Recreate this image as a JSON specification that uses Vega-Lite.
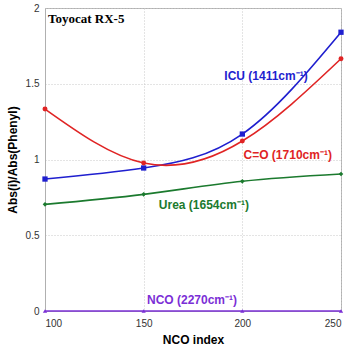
{
  "$schema": "https://vega.github.io/schema/vega-lite/v6.json",
  "width": 296,
  "height": 303,
  "autosize": {"type": "none"},
  "padding": {"left": 45, "top": 8, "right": 6, "bottom": 38},
  "background": "white",
  "config": {
    "view": {"stroke": "#b0b0b0", "strokeWidth": 1},
    "axis": {
      "grid": true, "gridColor": "#c8c8c8", "gridDash": [1, 2],
      "domainColor": "#b0b0b0", "ticks": false,
      "labelFont": "Liberation Sans", "labelFontSize": 10, "labelColor": "#333",
      "titleFont": "Liberation Sans", "titleFontSize": 12, "titleFontWeight": "bold", "titleColor": "#000"
    }
  },
  "datasets": {
    "pts": [
      {"idx": 100, "val": 0.871, "series": "ICU"},
      {"idx": 150, "val": 0.944, "series": "ICU"},
      {"idx": 200, "val": 1.168, "series": "ICU"},
      {"idx": 250, "val": 1.84, "series": "ICU"},
      {"idx": 100, "val": 1.333, "series": "C=O"},
      {"idx": 150, "val": 0.977, "series": "C=O"},
      {"idx": 200, "val": 1.122, "series": "C=O"},
      {"idx": 250, "val": 1.665, "series": "C=O"},
      {"idx": 100, "val": 0.704, "series": "Urea"},
      {"idx": 150, "val": 0.77, "series": "Urea"},
      {"idx": 200, "val": 0.856, "series": "Urea"},
      {"idx": 250, "val": 0.904, "series": "Urea"},
      {"idx": 100, "val": 0.0, "series": "NCO"},
      {"idx": 150, "val": 0.0, "series": "NCO"},
      {"idx": 200, "val": 0.0, "series": "NCO"},
      {"idx": 250, "val": 0.0, "series": "NCO"}
    ],
    "labels": [
      {"idx": 212, "val": 1.55, "series": "ICU", "text": "ICU (1411cm⁻¹)"},
      {"idx": 223, "val": 1.03, "series": "C=O", "text": "C=O (1710cm⁻¹)"},
      {"idx": 180.5, "val": 0.70, "series": "Urea", "text": "Urea (1654cm⁻¹)"},
      {"idx": 174.5, "val": 0.073, "series": "NCO", "text": "NCO (2270cm⁻¹)"}
    ]
  },
  "layer": [
    {
      "data": {"name": "pts"},
      "mark": {"type": "line", "interpolate": "natural", "strokeWidth": 1.6},
      "encoding": {
        "x": {"field": "idx", "type": "quantitative", "scale": {"domain": [100, 250], "nice": false}, "axis": {"values": [100, 150, 200, 250], "format": "d", "title": "NCO index", "titlePadding": 6, "labelPadding": 7}},
        "y": {"field": "val", "type": "quantitative", "scale": {"domain": [0, 2], "nice": false}, "axis": {"values": [0, 0.5, 1, 1.5, 2], "format": ".1~f", "title": "Abs(i)/Abs(Phenyl)", "titlePadding": 6, "labelPadding": 6}},
        "color": {"field": "series", "type": "nominal", "scale": {"domain": ["ICU", "C=O", "Urea", "NCO"], "range": ["#1f1fcf", "#e02424", "#1b7a2e", "#7b2fd6"]}, "legend": null}
      }
    },
    {
      "data": {"name": "pts"},
      "mark": {"type": "point", "filled": true, "opacity": 1},
      "encoding": {
        "x": {"field": "idx", "type": "quantitative"},
        "y": {"field": "val", "type": "quantitative"},
        "color": {"field": "series", "type": "nominal", "legend": null},
        "shape": {"field": "series", "type": "nominal", "scale": {"domain": ["ICU", "C=O", "Urea", "NCO"], "range": ["square", "circle", "diamond", "triangle-up"]}, "legend": null},
        "size": {"field": "series", "type": "nominal", "scale": {"domain": ["ICU", "C=O", "Urea", "NCO"], "range": [28, 18, 22, 22]}, "legend": null}
      }
    },
    {
      "data": {"name": "labels"},
      "mark": {"type": "text", "font": "Liberation Sans", "fontSize": 12, "fontWeight": "bold", "align": "center", "baseline": "middle"},
      "encoding": {
        "x": {"field": "idx", "type": "quantitative"},
        "y": {"field": "val", "type": "quantitative"},
        "text": {"field": "text"},
        "color": {"field": "series", "type": "nominal", "legend": null}
      }
    },
    {
      "data": {"values": [{"idx": 101.5, "val": 1.925, "text": "Toyocat RX-5"}]},
      "mark": {"type": "text", "font": "Liberation Serif", "fontSize": 13, "fontWeight": "bold", "align": "left", "baseline": "middle", "color": "#000"},
      "encoding": {
        "x": {"field": "idx", "type": "quantitative"},
        "y": {"field": "val", "type": "quantitative"},
        "text": {"field": "text"}
      }
    }
  ]
}
